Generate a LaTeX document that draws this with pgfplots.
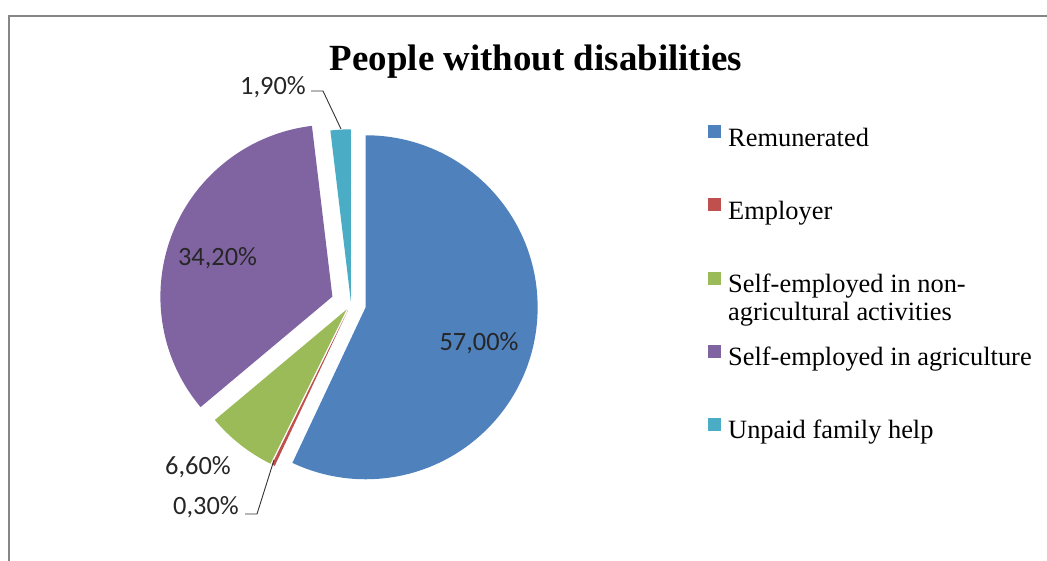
\documentclass[border=0pt]{standalone}
\usepackage{pgfplots}
\pgfplotsset{compat=1.18}
\usepackage{fontspec}
\setmainfont{Liberation Serif}
\newfontfamily\calib{Carlito}
\definecolor{cRem}{HTML}{4F81BD}
\definecolor{cEmp}{HTML}{C0504D}
\definecolor{cNon}{HTML}{9BBB59}
\definecolor{cAgr}{HTML}{8064A2}
\definecolor{cUnp}{HTML}{4BACC6}
\definecolor{frame}{HTML}{868686}
\newcommand\cx{351}
\newcommand\cy{257}
\newcommand\R{172}
% #1 start (percent), #2 value (percent), #3 explode (px), #4 colour
\newcommand\slice[4]{%
  \fill[#4] (axis cs:{\cx+#3*cos(90-3.6*(#1+#2/2))},{\cy+#3*sin(90-3.6*(#1+#2/2))})
    -- ++({90-3.6*(#1)}:\R pt)
    arc[start angle={90-3.6*(#1)}, end angle={90-3.6*(#1+#2)}, radius=\R pt] -- cycle;}
\begin{document}
\begin{tikzpicture}
\begin{axis}[
  x=1pt, y=1pt, xmin=0, xmax=1047, ymin=0, ymax=561,
  hide axis, clip=false, anchor=origin, at={(0pt,0pt)},
  legend image code/.code={\fill[#1, draw=none] (0pt,2pt) rectangle (13pt,15pt);},
  legend cell align=left,
  legend style={draw=none, fill=none, inner sep=0pt, column sep=7pt, row sep=46.2pt,
    at={(axis cs:708,436)}, anchor=north west,
    font=\fontsize{26.4}{28}\selectfont,
    nodes={inner sep=0pt, text height=18pt, text depth=6pt}},
]
\addlegendimage{fill=cRem}\addlegendentry{Remunerated}
\addlegendimage{fill=cEmp}\addlegendentry{Employer}
\addlegendimage{fill=cNon}\addlegendentry{\raisebox{0pt}[\height][0pt]{\begin{tabular}[t]{@{}l@{}}Self-employed in non-\\agricultural activities\end{tabular}}}
\addlegendimage{fill=cAgr}\addlegendentry{Self-employed in agriculture}
\addlegendimage{fill=cUnp}\addlegendentry{Unpaid family help}
% frame
\draw[frame, line width=2pt] (axis cs:9,-5) -- (axis cs:9,545) -- (axis cs:1060,545);
% slices: Remunerated 57.0, Employer 0.3, non-agri 6.6, agri 34.2, unpaid 1.9
\slice{0}{57.0}{15}{cRem}
\slice{57.0}{0.3}{7}{cEmp}
\slice{57.3}{6.6}{7}{cNon}
\slice{63.9}{34.2}{20}{cAgr}
\slice{98.1}{1.9}{2.7}{cUnp}
% title
\node[anchor=base, font=\bfseries\fontsize{36.9}{40}\selectfont] at (axis cs:536,490) {People without disabilities};
% data labels
\begin{scope}[every node/.style={anchor=base, font=\calib\fontsize{26.4}{30}\selectfont, text=black!85}]
\node at (axis cs:479,210) {57,00\%};
\node at (axis cs:217.5,295) {34,20\%};
\node at (axis cs:198,86) {6,60\%};
\node at (axis cs:206,46) {0,30\%};
\node at (axis cs:273,466) {1,90\%};
\end{scope}
\draw[black!80, line width=0.9pt] (axis cs:245,47) -- (axis cs:257,47) -- (axis cs:274,101);
\draw[black!80, line width=0.9pt] (axis cs:311,470) -- (axis cs:323,470) -- (axis cs:341,432);
\end{axis}
\pgfresetboundingbox
\path (0,0) rectangle (1047pt,561pt);
\end{tikzpicture}
\end{document}
